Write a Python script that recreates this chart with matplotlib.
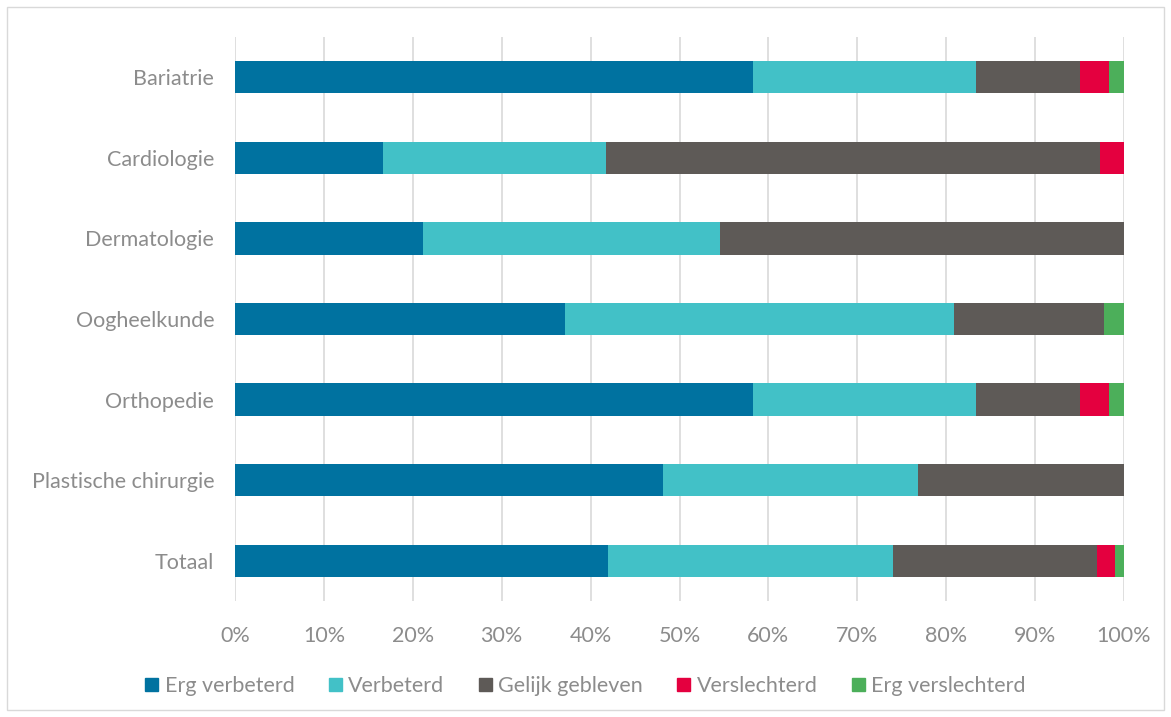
import numpy as np
import matplotlib
matplotlib.use("Agg")
import matplotlib.pyplot as plt
from matplotlib.patches import Rectangle, Patch

categories = ["Bariatrie", "Cardiologie", "Dermatologie", "Oogheelkunde",
              "Orthopedie", "Plastische chirurgie", "Totaal"]
series = ["Erg verbeterd", "Verbeterd", "Gelijk gebleven", "Verslechterd", "Erg verslechterd"]
erg_verbeterd = [58.3, 16.7, 21.2, 37.1, 58.3, 48.1, 42.0]
verbeterd = [25.0, 25.0, 33.3, 43.8, 25.0, 28.7, 32.0]
gelijk = [11.7, 55.6, 45.5, 16.9, 11.7, 23.2, 23.0]
verslechterd = [3.3, 2.8, 0.0, 0.0, 3.3, 0.0, 2.0]
erg_verslechterd = [1.7, 0.0, 0.0, 2.2, 1.7, 0.0, 1.2]
colors = ["#0072A0", "#42C1C7", "#5E5A57", "#E4003F", "#4CAF5A"]
ticks = np.arange(0, 101, 10)

txt = "#8C8C8C"
fs = 15.5
plt.rcParams["font.family"] = ["Lato", "DejaVu Sans"]

fig = plt.figure(figsize=(11.71, 7.17), dpi=100)
ax = fig.add_axes([235 / 1171, 1 - 601 / 717, (1124 - 235) / 1171, (601 - 37) / 717])

y = np.arange(len(categories))
left = np.zeros(len(categories))
for vals, name, c in zip([erg_verbeterd, verbeterd, gelijk, verslechterd, erg_verslechterd],
                         series, colors):
    ax.barh(y, vals, left=left, height=0.4, color=c, label=name, zorder=3)
    left += np.array(vals)

ax.set_ylim(len(categories) - 0.5, -0.5)
ax.set_xlim(0, 100)
ax.set_yticks(y)
ax.set_yticklabels(categories, fontsize=fs, color=txt)
ax.set_xticks(ticks)
ax.set_xticklabels([f"{t}%" for t in ticks], fontsize=fs, color=txt)
ax.tick_params(length=0)
ax.tick_params(axis="y", pad=15)
ax.tick_params(axis="x", pad=18)
ax.grid(axis="x", color="#D9D9D9", linewidth=1.2, zorder=0)
for s in ax.spines.values():
    s.set_visible(False)

handles = [Patch(color=c, label=n) for c, n in zip(colors, series)]
fig.legend(handles=handles, loc="center", bbox_to_anchor=(0.5, 1 - 686 / 717), ncol=5,
           frameon=False, fontsize=fs, labelcolor=txt, handlelength=0.6, handleheight=0.6,
           handletextpad=0.3, columnspacing=1.6)

fig.patches.append(Rectangle((7 / 1171, 7 / 717), 1157 / 1171, 703 / 717, transform=fig.transFigure,
                             fill=False, edgecolor="#D9D9D9", linewidth=1))

fig.savefig("out.png", dpi=100)
